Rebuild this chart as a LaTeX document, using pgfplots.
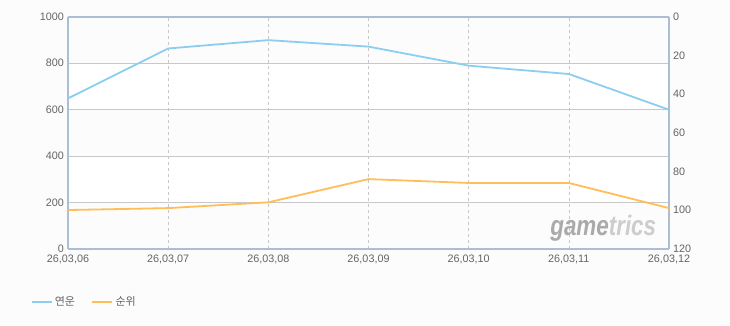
\documentclass[border=0pt]{standalone}
\usepackage{pgfplots}
\pgfplotsset{compat=1.18}
\usepackage{fontspec}
\setmainfont{Liberation Sans}
\newfontfamily\kr{Noto Sans CJK KR}
\definecolor{bluel}{RGB}{140,206,240}
\definecolor{orangel}{RGB}{255,190,90}
\definecolor{frame}{RGB}{172,190,212}
\definecolor{gridc}{RGB}{200,200,200}
\definecolor{bg}{RGB}{252,252,252}
\definecolor{txt}{RGB}{100,100,100}
\pgfplotsset{set layers}
\pagecolor{bg}
\begin{document}
\begin{tikzpicture}
\pgfplotsset{
  common/.style={
    scale only axis, width=601pt, height=232pt,
    at={(68pt,76.3pt)}, anchor=south west,
    xmin=0, xmax=6,
    axis line style={draw=frame, line width=1.8pt},
    tick style={draw=none},
    ticklabel style={font=\fontsize{10.8}{12}\selectfont, text=txt},
    /pgf/number format/assume math mode=true,
    /pgf/number format/1000 sep={},
  }
}
\begin{axis}[common,
  ymin=0, ymax=1000, ytick={0,200,400,600,800,1000},
  xtick={0,1,2,3,4,5,6},
  xticklabels={26{,}03{,}06,26{,}03{,}07,26{,}03{,}08,26{,}03{,}09,26{,}03{,}10,26{,}03{,}11,26{,}03{,}12},
  axis y line*=left, axis x line*=box,
  ymajorgrids, xmajorgrids,
  y grid style={draw=gridc, line width=0.7pt},
  x grid style={draw=gridc, dashed, line width=0.6pt},
  yticklabel style={xshift=-0.5pt},
  xticklabel style={yshift=-2.5pt},
  legend style={at={(-0.068,-0.23)}, anchor=west, draw=none, fill=none,
    font=\kr\fontsize{11}{13}\selectfont, text=txt, legend columns=2,
    /tikz/every even column/.append style={column sep=14pt}},
  legend image code/.code={\draw[#1, line width=2.5pt] (0pt,0pt) -- (20pt,0pt);},
]
\addplot[draw=none, fill=white, on layer=axis background, forget plot] coordinates {(0,200) (6,200) (6,400) (0,400)} -- cycle;
\addplot[draw=none, fill=white, on layer=axis background, forget plot] coordinates {(0,600) (6,600) (6,800) (0,800)} -- cycle;
\addplot[bluel, line width=1.8pt] coordinates {(0,648) (1,863) (2,899) (3,871) (4,789) (5,753) (6,599)};
\addlegendentry{연운}
\addlegendimage{orangel, line width=1.8pt}
\addlegendentry{순위}
\node[font=\bfseries\itshape\fontsize{28}{30}\selectfont, anchor=east, xscale=0.8] at (axis cs:5.9,87) {\textcolor[RGB]{170,170,170}{game}\textcolor[RGB]{205,205,205}{trics}};
\end{axis}
\begin{axis}[common,
  ymin=0, ymax=120, y dir=reverse, ytick={0,20,40,60,80,100,120},
  axis y line*=right, axis x line=none,
  yticklabel style={xshift=0.5pt},
]
\addplot[orangel, line width=1.8pt] coordinates {(0,100) (1,99) (2,96) (3,84) (4,86) (5,86) (6,99)};
\end{axis}
\pgfresetboundingbox
\path[use as bounding box] (0,0) rectangle (730pt,325pt);
\end{tikzpicture}
\end{document}
